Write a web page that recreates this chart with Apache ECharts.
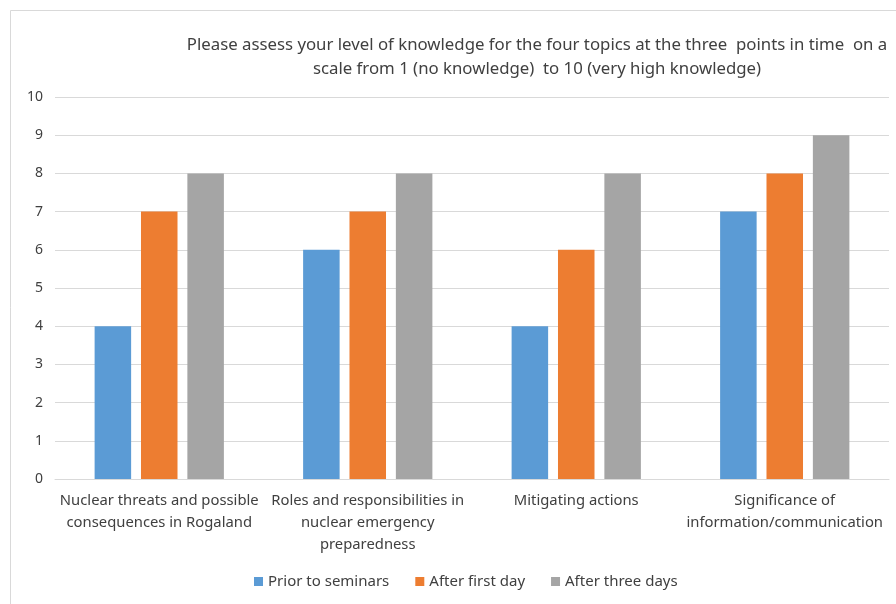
<!DOCTYPE html>
<html>
<head>
<meta charset="utf-8">
<script src="https://cdn.jsdelivr.net/npm/echarts@6/dist/echarts.min.js"></script>
<style>
  html, body { margin: 0; padding: 0; background: #fff; }
  #main { width: 896px; height: 604px; }
</style>
</head>
<body>
<div id="main"></div>
<script>
// data
var categories = [
    'Nuclear threats and possible\nconsequences in Rogaland',
    'Roles and responsibilities in\nnuclear emergency\npreparedness',
    'Mitigating actions',
    'Significance of\ninformation/communication'
];
var seriesNames = ['Prior to seminars', 'After first day', 'After three days'];
var priorValues = [4, 6, 4, 7];
var firstDayValues = [7, 7, 6, 8];
var threeDaysValues = [8, 8, 8, 9];
var colors = ['#5B9BD5', '#ED7D31', '#A5A5A5'];

var font = 'Noto Sans';
var myChart = echarts.init(document.getElementById('main'));

var option = {
    backgroundColor: '#fff',
    animation: false,
    color: colors,
    title: {
        text: 'Please assess your level of knowledge for the four topics at the three  points in time  on a\nscale from 1 (no knowledge)  to 10 (very high knowledge)',
        left: 532,
        top: 28,
        textAlign: 'center',
        textStyle: {
            fontFamily: font,
            fontSize: 16.8,
            fontWeight: 'normal',
            color: '#404040',
            lineHeight: 24
        }
    },
    legend: {
        bottom: 10,
        left: 249,
        itemWidth: 9,
        itemHeight: 9,
        itemGap: 26,
        icon: 'rect',
        textStyle: {fontFamily: font, fontSize: 15, color: '#404040'},
        data: seriesNames
    },
    grid: {
        left: 55,
        right: 7,
        top: 97,
        bottom: 125
    },
    xAxis: {
        type: 'category',
        data: categories,
        axisLine: {lineStyle: {color: '#d9d9d9'}},
        axisTick: {show: false},
        axisLabel: {
            interval: 0,
            margin: 11,
            fontFamily: font,
            fontSize: 14.8,
            color: '#404040',
            lineHeight: 22
        }
    },
    yAxis: {
        type: 'value',
        min: 0,
        max: 10,
        interval: 1,
        axisLine: {show: false},
        axisTick: {show: false},
        axisLabel: {fontFamily: font, fontSize: 14, color: '#404040', margin: 12},
        splitLine: {lineStyle: {color: '#d9d9d9'}}
    },
    series: [{
        name: seriesNames[0],
        type: 'bar',
        barGap: '27%',
        barCategoryGap: '38%',
        data: priorValues
    }, {
        name: seriesNames[1],
        type: 'bar',
        data: firstDayValues
    }, {
        name: seriesNames[2],
        type: 'bar',
        data: threeDaysValues
    }],
    graphic: [{
        type: 'rect',
        shape: {x: 10.5, y: 10.5, width: 900, height: 600},
        style: {fill: 'none', stroke: '#d9d9d9', lineWidth: 1},
        silent: true
    }]
};
myChart.setOption(option);
</script>
</body>
</html>
